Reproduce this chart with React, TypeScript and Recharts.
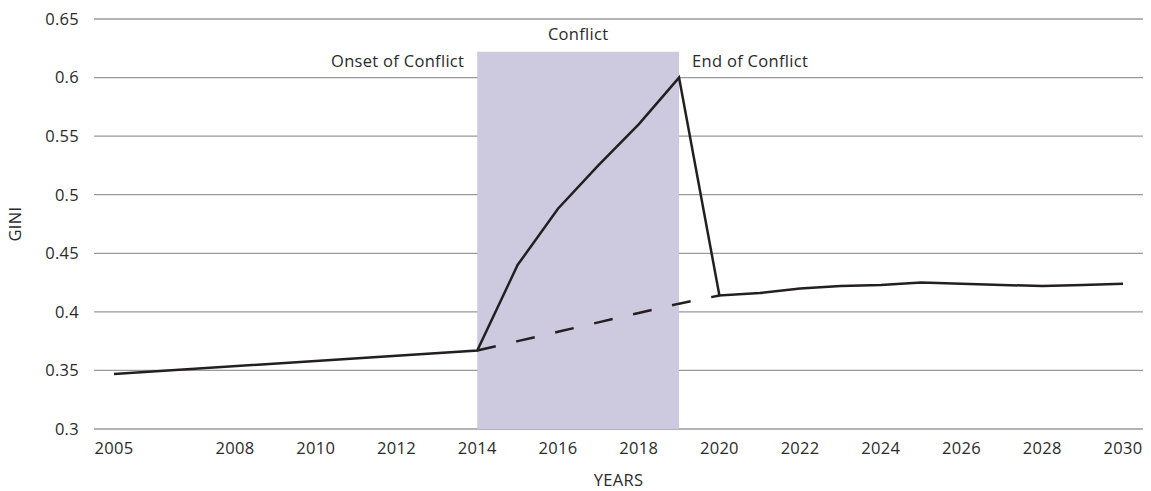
import React from 'react';
import { ComposedChart, Line, XAxis, YAxis, CartesianGrid, ReferenceArea, Label } from 'recharts';

const years = [2005, 2014, 2015, 2016, 2017, 2018, 2019, 2020, 2021, 2022, 2023, 2024, 2025, 2026, 2027, 2028, 2029, 2030];
const giniActual = [0.347, 0.367, 0.44, 0.488, 0.525, 0.56, 0.6, 0.414, 0.416, 0.42, 0.422, 0.423, 0.425, 0.424, 0.423, 0.422, 0.423, 0.424];
const giniCounterfactual = [null, 0.367, 0.375, 0.383, 0.391, 0.399, 0.407, 0.414, null, null, null, null, null, null, null, null, null, null];
const xTicks = [2005, 2008, 2010, 2012, 2014, 2016, 2018, 2020, 2022, 2024, 2026, 2028, 2030];
const yTicks = [0.3, 0.35, 0.4, 0.45, 0.5, 0.55, 0.6, 0.65];
const conflictStart = 2014;
const conflictEnd = 2019;
const conflictTop = 0.622;

const data = years.map((y, i) => ({ year: y, actual: giniActual[i], counterfactual: giniCounterfactual[i] }));

const FONT = '"Open Sans", sans-serif';
const TEXT = '#2a2a2a';
const FS = 16.5;
const LS = 0.3;

const ConflictLabels = (props: any) => {
  const vb = props.viewBox || {};
  const x = vb.x, y = vb.y, w = vb.width;
  return (
    <g fontFamily={FONT} fontSize={FS} fill={TEXT} letterSpacing={LS}>
      <text x={x + w / 2} y={y - 12} textAnchor="middle">Conflict</text>
      <text x={x - 13} y={y + 15} textAnchor="end">Onset of Conflict</text>
      <text x={x + w + 13} y={y + 15} textAnchor="start">End of Conflict</text>
    </g>
  );
};

const YLabel = (props: any) => {
  const vb = props.viewBox || {};
  const cy = vb.y + vb.height / 2;
  const x = 21;
  return (
    <text x={x} y={cy} transform={`rotate(-90, ${x}, ${cy})`} textAnchor="middle" fontFamily={FONT} fontSize={FS} fill={TEXT} letterSpacing={LS}>GINI</text>
  );
};

const XLabel = (props: any) => {
  const vb = props.viewBox || {};
  const cx = vb.x + vb.width / 2;
  return (
    <text x={cx} y={486} textAnchor="middle" fontFamily={FONT} fontSize={FS} fill={TEXT} letterSpacing={LS}>YEARS</text>
  );
};

export default function App() {
  return (
    <div style={{ position: 'absolute', left: 0, top: 0 }}>
      <ComposedChart width={1151} height={491} data={data} margin={{ top: 19, right: 8, left: 0, bottom: 0 }}>
        <CartesianGrid horizontal vertical={false} stroke="#9a9a9a" strokeWidth={1.3} />
        <ReferenceArea x1={conflictStart} x2={conflictEnd} y1={0.3} y2={conflictTop} fill="#cdcadf" fillOpacity={1} stroke="none" ifOverflow="visible" label={<ConflictLabels />} />
        <XAxis
          dataKey="year"
          type="number"
          domain={[2005, 2030]}
          ticks={xTicks}
          padding={{ left: 20, right: 20 }}
          axisLine={false}
          tickLine={false}
          tickMargin={7}
          height={62}
          tick={{ fill: TEXT, fontSize: FS, fontFamily: FONT, letterSpacing: LS }}
          interval={0}
        >
          <Label content={<XLabel />} />
        </XAxis>
        <YAxis
          type="number"
          domain={[0.3, 0.65]}
          ticks={yTicks}
          width={94}
          axisLine={false}
          tickLine={false}
          tickMargin={9}
          tick={{ fill: TEXT, fontSize: FS, fontFamily: FONT, letterSpacing: LS }}
          tickFormatter={(v: number) => String(+v.toFixed(2))}
        >
          <Label content={<YLabel />} />
        </YAxis>
        <Line type="linear" dataKey="counterfactual" stroke="#231f20" strokeWidth={2.5} strokeDasharray="19 21" dot={false} isAnimationActive={false} connectNulls={false} />
        <Line type="linear" dataKey="actual" stroke="#231f20" strokeWidth={2.5} dot={false} isAnimationActive={false} connectNulls />
      </ComposedChart>
    </div>
  );
}
